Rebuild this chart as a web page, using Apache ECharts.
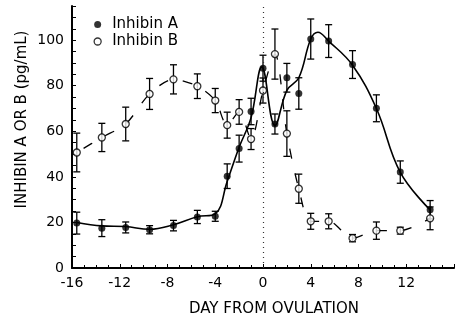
<!DOCTYPE html>
<html>
<head>
<meta charset="utf-8">
<script src="https://cdn.jsdelivr.net/npm/echarts@6/dist/echarts.min.js"></script>
<style>html,body{margin:0;padding:0;background:#fff}#c{width:457px;height:323px}</style>
</head>
<body>
<div id="c"></div>
<script>
// ---- data ----
const days = [-15.6,-13.5,-11.5,-9.5,-7.5,-5.5,-4,-3,-2,-1,0,1,2,3,4,5.5,7.5,9.5,11.5,14];
const inhibinA = [19.7,17.5,17.8,16.8,18.6,22.4,22.7,40.3,52.4,68.7,87.7,63.2,83.5,76.6,100.5,99.6,89.3,70.1,42.1,25.6];
const errA = [4.8,3.7,2.4,1.8,2.3,2.9,2.2,5.4,5.9,5.8,5.7,4.4,6.3,6.9,8.8,7.2,6.1,5.9,4.9,4.0];
const inhibinB = [50.7,57.3,63.2,76.4,82.8,79.8,73.5,62.7,68.5,56.6,77.9,93.9,59.0,34.8,20.5,20.5,13.1,16.4,16.4,21.8];
const errB = [8.5,6.2,7.4,6.8,6.4,5.4,5.3,5.7,5.4,4.6,5.5,11.0,10.0,6.4,3.5,3.3,1.6,3.8,1.5,5.0];
// fitted curve for Inhibin A
const fitDays = [-15.6,-13.5,-11.5,-9.5,-7.5,-5.5,-4,-3,-2,-1,-0.1,1,2,3,4,4.6,5.5,7.5,9.5,11.5,14];
const fitA = [20,18.5,18.2,17,19,22.5,23.8,38,53,66,88.3,62.5,78,83.5,100.5,103.5,99.6,89,70,42,25.5];
const xTicks = [-16,-12,-8,-4,0,4,8,12];
const yTicks = [0,20,40,60,80,100];

const zip = (xs, ys) => xs.map((x, i) => [x, ys[i]]);
const errData = (xs, ys, es) => xs.map((x, i) => [x, ys[i] - es[i], ys[i] + es[i]]);

function errRender(params, api) {
  const x = api.value(0);
  const lo = api.coord([x, api.value(1)]);
  const hi = api.coord([x, api.value(2)]);
  const w = 3.5;
  const st = {stroke: '#000', lineWidth: 1.3};
  return {type: 'group', children: [
    {type: 'line', shape: {x1: lo[0], y1: lo[1], x2: hi[0], y2: hi[1]}, style: st},
    {type: 'line', shape: {x1: lo[0]-w, y1: lo[1], x2: lo[0]+w, y2: lo[1]}, style: st},
    {type: 'line', shape: {x1: hi[0]-w, y1: hi[1], x2: hi[0]+w, y2: hi[1]}, style: st}
  ]};
}

const FONT = 'DejaVu Sans';
const chart = echarts.init(document.getElementById('c'));
chart.setOption({
  animation: false,
  backgroundColor: '#fff',
  textStyle: {fontFamily: FONT, color: '#000'},
  grid: {left: 72, top: 6, width: 400, height: 262},
  legend: {
    orient: 'vertical', left: 88.5, top: 12, itemGap: 2,
    itemWidth: 7, itemHeight: 7,
    textStyle: {fontFamily: FONT, fontSize: 15, color: '#000', padding: [0, 0, 0, 6]},
    data: [
      {name: 'Inhibin A', icon: 'circle', itemStyle: {color: '#000'}},
      {name: 'Inhibin B', icon: 'circle', itemStyle: {color: '#fff', borderColor: '#000', borderWidth: 1.3}}
    ]
  },
  xAxis: {
    type: 'value', min: -16, max: 16, interval: 4,
    axisLine: {show: true, onZero: false, lineStyle: {color: '#000', width: 2}},
    axisTick: {show: true, inside: true, length: 4, lineStyle: {color: '#000', width: 1}},
    minorTick: {show: true, splitNumber: 4, length: 3, lineStyle: {color: '#000', width: 1}},
    splitLine: {show: false},
    axisLabel: {fontFamily: FONT, fontSize: 14, color: '#000', margin: 8,
      formatter: v => xTicks.includes(v) ? String(v) : ''}
  },
  yAxis: {
    type: 'value', min: 0, max: 115, interval: 5,
    axisLine: {show: true, onZero: false, lineStyle: {color: '#000', width: 2}},
    axisTick: {show: true, inside: true, length: 4, lineStyle: {color: '#000', width: 1}},
    splitLine: {show: false},
    axisLabel: {fontFamily: FONT, fontSize: 14, color: '#000', margin: 8,
      formatter: v => yTicks.includes(v) ? String(v) : ''}
  },
  graphic: [
    {type: 'text', x: 21.7, y: 119.5, rotation: Math.PI / 2,
      style: {text: 'INHIBIN A OR B (pg/mL)', font: '15px "DejaVu Sans"', fill: '#000',
        textAlign: 'center', textVerticalAlign: 'middle'}},
    {type: 'text', x: 274, y: 309,
      style: {text: 'DAY FROM OVULATION', font: '15px "DejaVu Sans"', fill: '#000',
        textAlign: 'center', textVerticalAlign: 'middle'}}
  ],
  series: [
    {
      name: 'fitA', type: 'line', data: zip(fitDays, fitA), smooth: 0.4,
      showSymbol: false, silent: true, z: 2,
      lineStyle: {color: '#000', width: 1.6},
      markLine: {
        silent: true, symbol: 'none', label: {show: false},
        lineStyle: {color: '#333', type: [1, 4], width: 1.2},
        data: [{xAxis: 0}]
      }
    },
    {
      name: 'lineB', type: 'line', data: zip(days, inhibinB), smooth: 0.3,
      showSymbol: false, silent: true, z: 2,
      lineStyle: {color: '#000', width: 1.3, type: [10, 15], dashOffset: -8}
    },
    {name: 'errA', type: 'custom', renderItem: errRender, data: errData(days, inhibinA, errA), z: 3, silent: true},
    {name: 'errB', type: 'custom', renderItem: errRender, data: errData(days, inhibinB, errB), z: 3, silent: true},
    {
      name: 'Inhibin A', type: 'scatter', data: zip(days, inhibinA), symbol: 'circle', symbolSize: 7,
      itemStyle: {color: '#000'}, z: 5
    },
    {
      name: 'Inhibin B', type: 'scatter', data: zip(days, inhibinB), symbol: 'circle', symbolSize: 7,
      itemStyle: {color: '#fff', borderColor: '#000', borderWidth: 1.3}, z: 4
    }
  ]
});
</script>
</body>
</html>
